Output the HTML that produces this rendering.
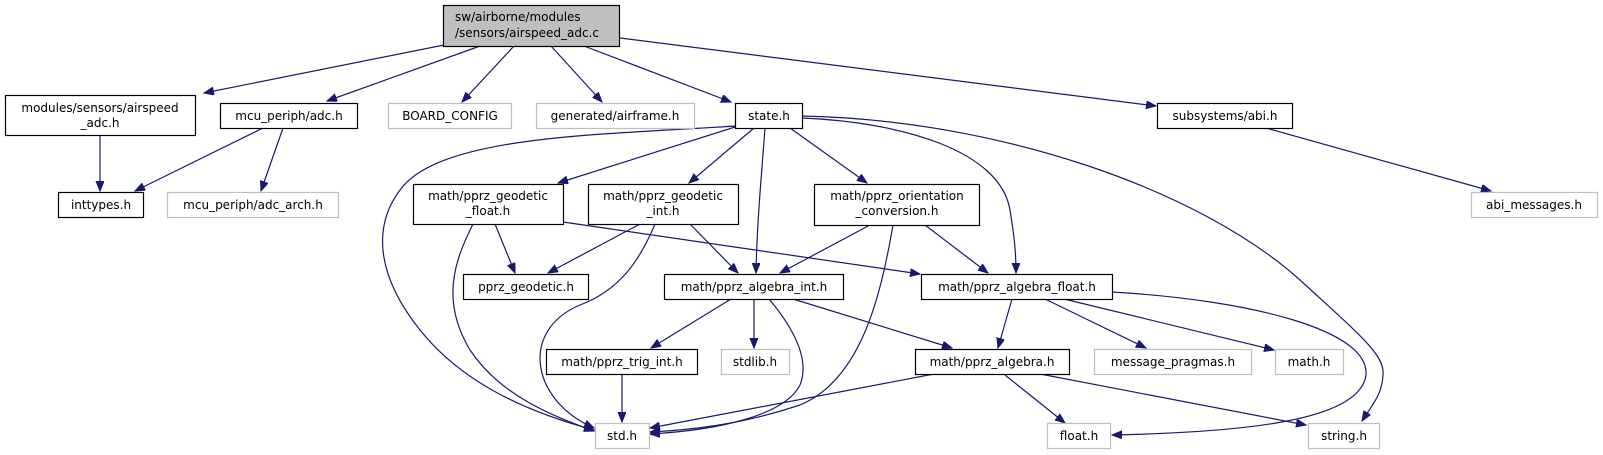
<!DOCTYPE html>
<html><head><meta charset="utf-8"><style>
html,body{margin:0;padding:0;background:#fff;}
svg{display:block;}
text{font-family:"DejaVu Sans","Liberation Sans",sans-serif;font-size:12px;fill:#000;}
.e{fill:none;stroke:#191970;stroke-width:1.2;marker-end:url(#ah);}
.nb{fill:#fff;stroke:#000;stroke-width:1.2;}
.ng{fill:#fff;stroke:#bfbfbf;stroke-width:1.2;}
</style></head><body>
<svg width="1603" height="455" viewBox="0 0 1603 455" xmlns="http://www.w3.org/2000/svg">
<defs>
<marker id="ah" markerUnits="userSpaceOnUse" markerWidth="12" markerHeight="10" refX="10" refY="4" orient="auto">
<path d="M0,0 L10,4 L0,8 Z" fill="#191970" stroke="#191970"/>
</marker>
</defs>

<!-- edges -->
<path class="e" d="M444,45 L204,93"/>
<path class="e" d="M480,46 L327,101"/>
<path class="e" d="M514,46 L462,102"/>
<path class="e" d="M551,46 L602,102"/>
<path class="e" d="M584,46 L731,102"/>
<path class="e" d="M620,38 L1156,106"/>
<path class="e" d="M100,135 L100,191"/>
<path class="e" d="M263,128 L135,191"/>
<path class="e" d="M283,128 L261,191"/>
<path class="e" d="M1266,128 L1491,191"/>
<path class="e" d="M735,127 L558,183"/>
<path class="e" d="M754,128 L689,183"/>
<path class="e" d="M765,128 C762,170 757,220 756,273"/>
<path class="e" d="M790,128 L867,183"/>
<path class="e" d="M802,118 C900,122 1000,150 1010,210 C1014,235 1016,250 1016,273"/>
<path class="e" d="M802,116 C1000,120 1200,190 1300,280 C1360,335 1385,355 1383,375 C1382,395 1372,405 1362,421"/>
<path class="e" d="M736,126 C600,135 440,135 400,190 C370,230 380,280 420,330 C460,380 520,410 594,430"/>
<path class="e" d="M473,224 C455,260 440,300 470,350 C500,395 550,415 594,431"/>
<path class="e" d="M495,224 L515,273"/>
<path class="e" d="M563,222 L920,274"/>
<path class="e" d="M640,224 L548,273"/>
<path class="e" d="M655,224 C640,260 620,290 580,305 C520,330 530,400 594,428"/>
<path class="e" d="M690,224 L738,273"/>
<path class="e" d="M870,225 L780,273"/>
<path class="e" d="M893,225 C880,300 860,380 800,405 C740,425 690,430 650,432"/>
<path class="e" d="M925,225 L988,273"/>
<path class="e" d="M731,299 L651,348"/>
<path class="e" d="M754,299 L754,348"/>
<path class="e" d="M769,299 C795,330 810,360 800,385 C785,415 720,430 650,434"/>
<path class="e" d="M793,299 L952,348"/>
<path class="e" d="M1012,299 L998,348"/>
<path class="e" d="M1045,299 L1146,348"/>
<path class="e" d="M1064,299 L1274,350"/>
<path class="e" d="M1112,292 C1250,300 1370,330 1366,375 C1360,420 1250,432 1112,435"/>
<path class="e" d="M622,374 L622,422"/>
<path class="e" d="M934,374 L650,428"/>
<path class="e" d="M1005,375 L1065,423"/>
<path class="e" d="M1040,374 L1306,425"/>

<!-- nodes -->
<rect x="443.5" y="5.5" width="176" height="41" fill="#bfbfbf" stroke="#000" stroke-width="1.2"/>
<text x="455" y="21">sw/airborne/modules</text>
<text x="455" y="37">/sensors/airspeed_adc.c</text>

<rect class="nb" x="5.5" y="95.5" width="190" height="40"/>
<text x="100" y="112" text-anchor="middle">modules/sensors/airspeed</text>
<text x="100" y="127" text-anchor="middle">_adc.h</text>

<rect class="nb" x="220.5" y="103.5" width="137" height="25"/>
<text x="289" y="120" text-anchor="middle">mcu_periph/adc.h</text>
<rect class="ng" x="388.5" y="103.5" width="123" height="25"/>
<text x="450" y="120" text-anchor="middle">BOARD_CONFIG</text>
<rect class="ng" x="536.5" y="103.5" width="158" height="25"/>
<text x="615" y="120" text-anchor="middle">generated/airframe.h</text>
<rect class="nb" x="735.5" y="103.5" width="67" height="25"/>
<text x="769" y="120" text-anchor="middle">state.h</text>
<rect class="nb" x="1157.5" y="103.5" width="135" height="25"/>
<text x="1225" y="120" text-anchor="middle">subsystems/abi.h</text>

<rect class="nb" x="58.5" y="192.5" width="85" height="25"/>
<text x="101" y="209" text-anchor="middle">inttypes.h</text>
<rect class="ng" x="167.5" y="192.5" width="171" height="25"/>
<text x="253" y="209" text-anchor="middle">mcu_periph/adc_arch.h</text>
<rect class="nb" x="413.5" y="184.5" width="150" height="40"/>
<text x="488" y="200" text-anchor="middle">math/pprz_geodetic</text>
<text x="488" y="215" text-anchor="middle">_float.h</text>
<rect class="nb" x="588.5" y="184.5" width="150" height="40"/>
<text x="663" y="200" text-anchor="middle">math/pprz_geodetic</text>
<text x="663" y="215" text-anchor="middle">_int.h</text>
<rect class="nb" x="814.5" y="184.5" width="165" height="41"/>
<text x="897" y="200" text-anchor="middle">math/pprz_orientation</text>
<text x="897" y="215" text-anchor="middle">_conversion.h</text>
<rect class="ng" x="1471.5" y="192.5" width="126" height="25"/>
<text x="1534" y="209" text-anchor="middle">abi_messages.h</text>

<rect class="nb" x="463.5" y="274.5" width="125" height="25"/>
<text x="526" y="291" text-anchor="middle">pprz_geodetic.h</text>
<rect class="nb" x="664.5" y="274.5" width="179" height="25"/>
<text x="754" y="291" text-anchor="middle">math/pprz_algebra_int.h</text>
<rect class="nb" x="921.5" y="274.5" width="191" height="25"/>
<text x="1017" y="291" text-anchor="middle">math/pprz_algebra_float.h</text>

<rect class="nb" x="546.5" y="349.5" width="151" height="25"/>
<text x="622" y="366" text-anchor="middle">math/pprz_trig_int.h</text>
<rect class="ng" x="721.5" y="349.5" width="68" height="25"/>
<text x="755" y="366" text-anchor="middle">stdlib.h</text>
<rect class="nb" x="915.5" y="349.5" width="154" height="25"/>
<text x="992" y="366" text-anchor="middle">math/pprz_algebra.h</text>
<rect class="ng" x="1094.5" y="349.5" width="157" height="25"/>
<text x="1173" y="366" text-anchor="middle">message_pragmas.h</text>
<rect class="ng" x="1275.5" y="349.5" width="68" height="25"/>
<text x="1309" y="366" text-anchor="middle">math.h</text>

<rect class="ng" x="595.5" y="423.5" width="54" height="25"/>
<text x="622" y="440" text-anchor="middle">std.h</text>
<rect class="ng" x="1047.5" y="423.5" width="63" height="25"/>
<text x="1079" y="440" text-anchor="middle">float.h</text>
<rect class="ng" x="1308.5" y="423.5" width="71" height="25"/>
<text x="1344" y="440" text-anchor="middle">string.h</text>
</svg>
</body></html>
